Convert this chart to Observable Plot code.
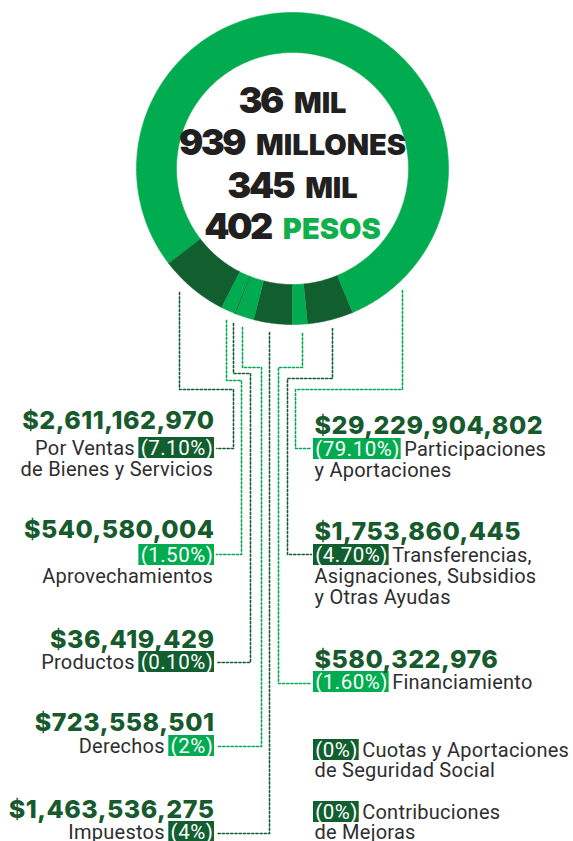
<!DOCTYPE html>
<html><head><meta charset="utf-8">
<script src="https://cdn.jsdelivr.net/npm/d3@7"></script>
<script src="https://cdn.jsdelivr.net/npm/@observablehq/plot@0.6"></script>
<style>
body{margin:0;background:#fff}
#chart svg{display:block}
</style></head><body><div id="chart"></div>
<script>
// ---------- DATA ----------
const categories = ["Participaciones y Aportaciones","Transferencias, Asignaciones, Subsidios y Otras Ayudas","Financiamiento","Impuestos","Derechos","Productos","Aprovechamientos","Por Ventas de Bienes y Servicios","Cuotas y Aportaciones de Seguridad Social","Contribuciones de Mejoras"];
const values = [29229904802, 1753860445, 580322976, 1463536275, 723558501, 36419429, 540580004, 2611162970, 0, 0];
const percentLabels = ["(79.10%)","(4.70%)","(1.60%)","(4%)","(2%)","(0.10%)","(1.50%)","(7.10%)","(0%)","(0%)"];
const categoryLines = [["Participaciones","y Aportaciones"],["Transferencias,","Asignaciones, Subsidios","y Otras Ayudas"],["Financiamiento"],["Impuestos"],["Derechos"],["Productos"],["Aprovechamientos"],["Por Ventas","de Bienes y Servicios"],["Cuotas y Aportaciones","de Seguridad Social"],["Contribuciones","de Mejoras"]];
const centerNumbers = ["36","939","345","402"];
const centerUnits = ["MIL","MILLONES","MIL","PESOS"];

// ---------- LAYOUT / STYLE ----------
const W = 573, H = 841;
const CX = 292, CY = 168, R_OUT = 156, R_IN = 116, START_DEG = 232.5;
const DARK = "#115e2f", LIGHT = "#00ac4f", VALUE = "#175a2e", GRAY = "#2e2e2e", INK = "#221f20", PESOS = "#0fb04c";
const shade = [LIGHT, DARK, LIGHT, DARK, LIGHT, DARK, LIGHT, DARK, DARK, DARK];
const labelLayout = [
  {side:"R", vy:433, ly:[455,476]},
  {side:"R", vy:539, ly:[561,582,603]},
  {side:"R", vy:667, ly:[688]},
  {side:"L", vy:817, ly:[838]},
  {side:"L", vy:730, ly:[752]},
  {side:"L", vy:647, ly:[668]},
  {side:"L", vy:537, ly:[561,582], boxAlone:true},
  {side:"L", vy:428, ly:[454,475]},
  {side:"R", vy:null, ly:[756,776]},
  {side:"R", vy:null, ly:[818,838]}
];
const connectorRoutes = [
  [[402,290],[402,389],[295,389],[295,448],[311,448]],
  [[332,328],[332,378],[287,378],[287,554],[311,554]],
  [[302,333],[302,367],[278,367],[278,683],[311,683]],
  [[269,332],[269,833],[216,833]],
  [[242,327],[242,367],[261,367],[261,746],[216,746]],
  [[233,323],[233,373],[250,373],[250,662],[216,662]],
  [[226,320],[226,380],[241,380],[241,554],[216,554]],
  [[179,292],[179,389],[233,389],[233,448],[216,448]]
];
const L_EDGE = 214, R_EDGE = 313;
const styles = {
  value:{family:"Inter", weight:800, size:25, ls:0.5, fill:VALUE},
  label:{family:"Roboto", weight:400, size:20, ls:0.25, fill:GRAY},
  pct:{family:"Roboto", weight:400, size:20.5, ls:0.5, fill:"#fff"},
  num:{family:"Inter", weight:900, size:36, ls:-2.5, fill:INK},
  unit:{family:"Inter", weight:900, size:29, ls:0, fill:INK}
};

// ---------- BUILD ----------
const ctx = document.createElement("canvas").getContext("2d");
function tw(t, k){ const s = styles[k]; ctx.font = `${s.weight} ${s.size}px ${s.family}`; return ctx.measureText(t).width + s.ls * t.length; }

const rad = d => d * Math.PI / 180;
const pie = d3.pie().value(d => d.v).sort(null).startAngle(rad(START_DEG)).endAngle(rad(START_DEG + 360));
const slices = pie(values.map((v, i) => ({v, i})).filter(d => d.v > 0));
const ring = [];
for (const s of slices) {
  const n = Math.max(2, Math.ceil((s.endAngle - s.startAngle) / rad(0.5)) + 1);
  const pts = [];
  for (let k = 0; k < n; k++) { const a = s.startAngle + (s.endAngle - s.startAngle) * k / (n - 1); pts.push([R_OUT, a]); }
  for (let k = n - 1; k >= 0; k--) { const a = s.startAngle + (s.endAngle - s.startAngle) * k / (n - 1); pts.push([R_IN, a]); }
  for (const [r, a] of pts) ring.push({key: categories[s.data.i], x: CX + r * Math.sin(a), y: CY - r * Math.cos(a), color: shade[s.data.i]});
}

const connectors = [];
connectorRoutes.forEach((route, i) => route.forEach(([x, y]) => connectors.push({key: categories[i], x, y, color: shade[i]})));

const texts = [], boxes = [];
const fmt = d3.format(",");
labelLayout.forEach((L, i) => {
  const lines = categoryLines[i];
  const pct = percentLabels[i];
  const bw = tw(pct, "pct") + 3;
  if (L.side === "L") {
    if (L.vy != null) texts.push({x: L_EDGE, y: L.vy, text: "$" + fmt(values[i]), st: "value", a: "end"});
    const by = L.ly[0];
    boxes.push({x1: L_EDGE - bw, x2: L_EDGE, y1: by - 17, y2: by + 4, fill: shade[i]});
    texts.push({x: L_EDGE - bw / 2 + 0.3, y: by, text: pct, st: "pct", a: "middle"});
    if (L.boxAlone) {
      lines.forEach((t, j) => texts.push({x: L_EDGE - 1.5, y: L.ly[j + 1], text: t, st: "label", a: "end"}));
    } else {
      texts.push({x: L_EDGE - bw - 4, y: by, text: lines[0], st: "label", a: "end"});
      lines.slice(1).forEach((t, j) => texts.push({x: L_EDGE - 1.5, y: L.ly[j + 1], text: t, st: "label", a: "end"}));
    }
  } else {
    if (L.vy != null) texts.push({x: R_EDGE + 1, y: L.vy, text: "$" + fmt(values[i]), st: "value", a: "start"});
    const by = L.ly[0];
    boxes.push({x1: R_EDGE, x2: R_EDGE + bw, y1: by - 17, y2: by + 4, fill: shade[i]});
    texts.push({x: R_EDGE + bw / 2 + 0.3, y: by, text: pct, st: "pct", a: "middle"});
    texts.push({x: R_EDGE + bw + 3, y: by, text: lines[0], st: "label", a: "start"});
    lines.slice(1).forEach((t, j) => texts.push({x: R_EDGE + 1, y: L.ly[j + 1], text: t, st: "label", a: "start"}));
  }
});

const centerY = [112, 154, 197, 238];
centerNumbers.forEach((n, i) => {
  const u = centerUnits[i];
  const wn = tw(n, "num"), wu = tw(u, "unit"), gap = 12;
  const x0 = CX - (wn + gap + wu) / 2;
  texts.push({x: x0, y: centerY[i], text: n, st: "num", a: "start"});
  texts.push({x: x0 + wn + gap, y: centerY[i], text: u, st: "unit", a: "start", fill: u === "PESOS" ? PESOS : INK});
});
texts.forEach(t => { if (!t.fill) t.fill = styles[t.st].fill; });

const groups = d3.groups(texts, t => t.st + "|" + t.a);
const textMarks = groups.map(([key, items]) => {
  const [st, a] = key.split("|"); const s = styles[st];
  return Plot.text(items, {x: "x", y: "y", text: "text", fill: "fill", textAnchor: a, lineAnchor: "bottom",
    fontFamily: s.family, fontWeight: s.weight, fontSize: s.size});
});

const plot = Plot.plot({
  width: W, height: H, margin: 0,
  x: {domain: [0, W], range: [0, W], axis: null},
  y: {domain: [0, H], range: [0, H], axis: null},
  color: {type: "identity"},
  style: {background: "#fff"},
  marks: [
    Plot.line(ring, {x: "x", y: "y", z: "key", fill: "color", stroke: "color", strokeWidth: 0.6}),
    Plot.line(connectors, {x: "x", y: "y", z: "key", stroke: "color", strokeWidth: 1.6, strokeDasharray: "2.2 2"}),
    Plot.rect(boxes, {x1: "x1", x2: "x2", y1: "y1", y2: "y2", fill: "fill"}),
    ...textMarks
  ]
});
document.getElementById("chart").append(plot);
// apply letter-spacing per text style (matched by its unique font size)
plot.querySelectorAll("g[font-size]").forEach(g => {
  const size = +g.getAttribute("font-size");
  const s = Object.values(styles).find(s => s.size === size);
  if (s) g.setAttribute("letter-spacing", s.ls + "px");
});
</script></body></html>
